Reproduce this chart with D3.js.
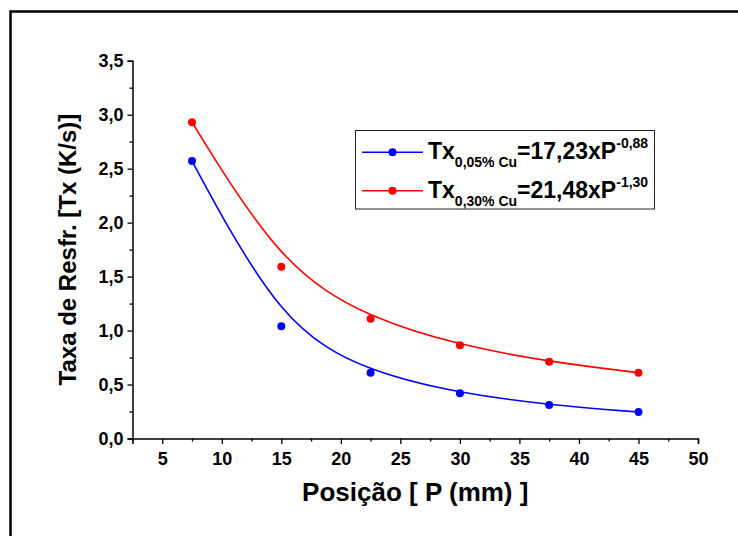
<!DOCTYPE html>
<html><head><meta charset="utf-8">
<script src="https://cdn.jsdelivr.net/npm/d3@7"></script>
<style>
body{margin:0;background:#fff;}
svg{display:block;font-family:"Liberation Sans",Arial,sans-serif;font-weight:bold;}
</style>
</head><body>
<svg id="chart" width="738" height="536"></svg>
<script>
// ---- data ----
const positions = [7.5, 15, 22.5, 30, 37.5, 45];
const txCu005 = [2.57, 1.04, 0.61, 0.42, 0.31, 0.245];
const txCu030 = [2.93, 1.59, 1.11, 0.865, 0.71, 0.61];
const xTicks = [5, 10, 15, 20, 25, 30, 35, 40, 45, 50];
const yTicks = [0, 0.5, 1.0, 1.5, 2.0, 2.5, 3.0, 3.5];
const legendSub = ["0,05% Cu", "0,30% Cu"];
const legendCoef = ["=17,23xP", "=21,48xP"];
const legendExp = ["-0,88", "-1,30"];
const seriesColors = ["#0000ff", "#ff0000"];
const xTitle = "Posição [ P (mm) ]";
const yTitle = "Taxa de Resfr. [Tx (K/s)]";

const series = [txCu005, txCu030].map((vals, i) => ({
  color: seriesColors[i],
  pts: positions.map((p, j) => [p, vals[j]])
}));

const svg = d3.select("#chart");
const locale = d3.formatLocale({decimal: ",", thousands: ".", grouping: [3], currency: ["", ""]});
const fmt1 = locale.format(".1f");

const x = d3.scaleLinear().domain([2.5, 50]).range([132.5, 698]);
const y = d3.scaleLinear().domain([0, 3.5]).range([438.5, 60.7]);

// outer frame
svg.append("rect").attr("x", 10.5).attr("y", 11.5).attr("width", 760).attr("height", 560)
  .attr("fill", "none").attr("stroke", "#000").attr("stroke-width", 2.5);

// minor ticks
const xMinor = xTicks.map(v => v - 2.5);
const yMinor = yTicks.slice(1).map(v => v - 0.25);

const gx = svg.append("g").attr("transform", `translate(0,${y(0)})`);
gx.call(d3.axisBottom(x).tickValues(xTicks).tickSize(5.5).tickPadding(8).tickFormat(d3.format("d")));
const gxm = svg.append("g").attr("transform", `translate(0,${y(0)})`);
gxm.call(d3.axisBottom(x).tickValues(xMinor).tickSize(3).tickFormat(""));
gxm.select(".domain").remove();

const gy = svg.append("g").attr("transform", `translate(${x(2.5)},0)`);
gy.call(d3.axisLeft(y).tickValues(yTicks).tickSize(5).tickPadding(4).tickFormat(fmt1));
const gym = svg.append("g").attr("transform", `translate(${x(2.5)},0)`);
gym.call(d3.axisLeft(y).tickValues(yMinor).tickSize(3).tickFormat(""));
gym.select(".domain").remove();

svg.selectAll(".domain").attr("stroke", "#000").attr("stroke-width", 1.5);
svg.selectAll(".tick line").attr("stroke", "#000").attr("stroke-width", 1.3);
svg.selectAll(".tick text").attr("font-size", 18).attr("font-weight", "bold")
  .attr("font-family", '"Liberation Sans",Arial,sans-serif').attr("fill", "#000");

// axis titles
svg.append("text").attr("x", (x(2.5) + x(50)) / 2).attr("y", 501)
  .attr("text-anchor", "middle").attr("font-size", 26).text(xTitle);
svg.append("text").attr("transform", `translate(76,${(y(0) + y(3.5)) / 2}) rotate(-90)`)
  .attr("text-anchor", "middle").attr("font-size", 24).text(yTitle);

// curves + points
const line = d3.line().x(d => x(d[0])).y(d => y(d[1])).curve(d3.curveBasis);
series.forEach(s => {
  svg.append("path").attr("d", line(s.pts)).attr("fill", "none")
    .attr("stroke", s.color).attr("stroke-width", 1.6);
  svg.append("g").selectAll("circle").data(s.pts).join("circle")
    .attr("cx", d => x(d[0])).attr("cy", d => y(d[1])).attr("r", 4).attr("fill", s.color);
});

// legend
const lg = svg.append("g");
lg.append("rect").attr("x", 355.5).attr("y", 130.5).attr("width", 299).attr("height", 78.5)
  .attr("fill", "#fff").attr("stroke", "#222").attr("stroke-width", 1);
const rowY = [152.3, 190.7];
series.forEach((s, i) => {
  const ry = rowY[i];
  lg.append("line").attr("x1", 362).attr("x2", 423).attr("y1", ry).attr("y2", ry)
    .attr("stroke", s.color).attr("stroke-width", 1.6);
  lg.append("circle").attr("cx", 392.5).attr("cy", ry).attr("r", 4).attr("fill", s.color);
  const t = lg.append("text").attr("x", 428).attr("y", ry + 7).attr("font-size", 23);
  t.append("tspan").text("Tx");
  t.append("tspan").attr("font-size", 14).attr("dy", 8).text(legendSub[i]);
  t.append("tspan").attr("font-size", 23).attr("dy", -8).text(legendCoef[i]);
  t.append("tspan").attr("font-size", 14).attr("dy", -11).text(legendExp[i]);
});
</script>
</body></html>
